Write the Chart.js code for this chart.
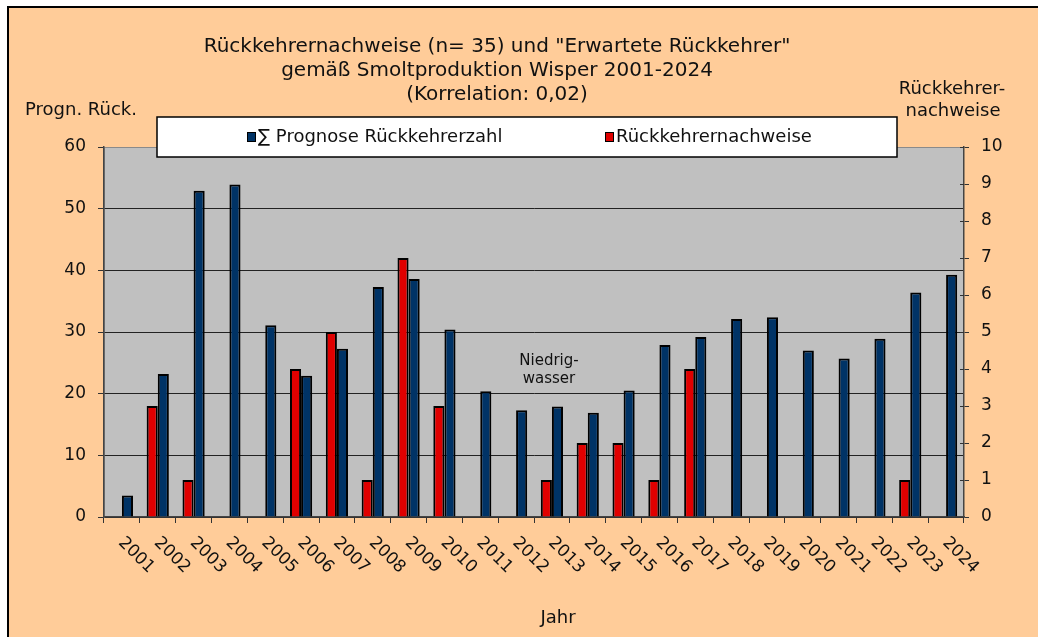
<!DOCTYPE html>
<html>
<head>
<meta charset="utf-8">
<script src="https://cdn.jsdelivr.net/npm/chart.js@4/dist/chart.umd.min.js"></script>
<style>
html,body{margin:0;padding:0;background:#fff;}
#wrap{width:1038px;height:637px;position:relative;}
</style>
</head>
<body>
<div id="wrap"><canvas id="c" width="1038" height="637"></canvas></div>
<script>
const years = ['2001','2002','2003','2004','2005','2006','2007','2008','2009','2010','2011','2012','2013','2014','2015','2016','2017','2018','2019','2020','2021','2022','2023','2024'];
const prognose = [3.5,23.2,52.9,53.9,31.1,22.9,27.3,37.3,38.6,30.4,20.4,17.3,17.9,16.9,20.5,27.9,29.2,32.1,32.4,27.0,25.7,28.9,36.4,39.3];
const nachweise = [null,3,1,null,null,4,5,1,7,3,null,null,1,2,2,1,4,null,null,null,null,null,1,null];
const leftTicks = [0,10,20,30,40,50,60];
const rightTicks = [0,1,2,3,4,5,6,7,8,9,10];
const titleLines = ['Rückkehrernachweise (n= 35) und "Erwartete Rückkehrer"','gemäß Smoltproduktion Wisper 2001-2024','(Korrelation: 0,02)'];
const leftAxisTitle = 'Progn. Rück.';
const rightAxisTitle = ['Rückkehrer-','nachweise'];
const xAxisTitle = 'Jahr';
const noteLines = ['Niedrig-','wasser'];
const labelBlue = '\u2211 Prognose Rückkehrerzahl';
const labelRed = 'Rückkehrernachweise';

const FONT = "'DejaVu Sans', Verdana, sans-serif";
const BLUE = '#003366';
const RED = '#E00000';

const decor = {
  id: 'decor',
  beforeDraw(chart) {
    const ctx = chart.ctx, a = chart.chartArea;
    ctx.save();
    ctx.fillStyle = '#ffffff';
    ctx.fillRect(0, 0, chart.width, chart.height);
    ctx.fillStyle = '#FFCC99';
    ctx.fillRect(8, 7, chart.width - 8, chart.height - 7);
    ctx.strokeStyle = '#000';
    ctx.lineWidth = 2;
    ctx.beginPath();
    ctx.moveTo(8, chart.height); ctx.lineTo(8, 7); ctx.lineTo(chart.width, 7);
    ctx.stroke();
    ctx.fillStyle = '#C0C0C0';
    ctx.fillRect(a.left, a.top, a.right - a.left, a.bottom - a.top);
    ctx.strokeStyle = '#8a8a8a';
    ctx.lineWidth = 1;
    ctx.strokeRect(a.left + 0.5, a.top + 0.5, a.right - a.left - 1, a.bottom - a.top - 1);
    ctx.restore();
  },
  afterDraw(chart) {
    const ctx = chart.ctx, a = chart.chartArea;
    const xs = chart.scales.x, y = chart.scales.y, y2 = chart.scales.y2;
    ctx.save();
    ctx.fillStyle = '#111';
    // titles
    ctx.font = '20px ' + FONT;
    ctx.textAlign = 'center';
    ctx.textBaseline = 'middle';
    const tys = [47, 71, 95];
    titleLines.forEach((t, i) => ctx.fillText(t, 497, tys[i]));
    // axis titles
    ctx.font = '18px ' + FONT;
    ctx.textAlign = 'left';
    ctx.fillText(leftAxisTitle, 25, 110);
    ctx.textAlign = 'center';
    ctx.fillText(rightAxisTitle[0], 952, 89);
    ctx.fillText(rightAxisTitle[1], 953, 111);
    ctx.fillText(xAxisTitle, 558, 618);
    // note
    ctx.font = '15px ' + FONT;
    const nx = (xs.getPixelForValue(11) + xs.getPixelForValue(12)) / 2 + 15;
    ctx.fillText(noteLines[0], nx, y.getPixelForValue(25.2));
    ctx.fillText(noteLines[1], nx, y.getPixelForValue(22.3));
    // x labels rotated
    ctx.font = '17px ' + FONT;
    ctx.textAlign = 'left';
    ctx.textBaseline = 'middle';
    years.forEach((lab, i) => {
      const px = xs.getPixelForValue(i);
      ctx.save();
      ctx.translate(px - 1, a.bottom + 23);
      ctx.rotate(Math.PI / 4);
      ctx.fillText(lab, 0, 0);
      ctx.restore();
    });
    // inner ticks for right axis
    ctx.strokeStyle = '#333';
    ctx.lineWidth = 1;
    y2.ticks.forEach(t => {
      const py = Math.round(y2.getPixelForValue(t.value)) + 0.5;
      ctx.beginPath(); ctx.moveTo(a.right - 4, py); ctx.lineTo(a.right, py); ctx.stroke();
    });
    // legend box
    const lx = 157, ly = 117, lw = 740, lh = 40;
    ctx.fillStyle = '#fff';
    ctx.fillRect(lx, ly, lw, lh);
    ctx.strokeStyle = '#000';
    ctx.lineWidth = 1.5;
    ctx.strokeRect(lx, ly, lw, lh);
    const items = [
      {label: labelBlue, color: BLUE, x: 247},
      {label: labelRed, color: RED, x: 605}
    ];
    ctx.font = '18px ' + FONT;
    ctx.textAlign = 'left';
    ctx.textBaseline = 'middle';
    items.forEach(it => {
      ctx.fillStyle = it.color;
      ctx.fillRect(it.x, ly + 15, 8, 9);
      ctx.strokeStyle = '#000';
      ctx.lineWidth = 1;
      ctx.strokeRect(it.x + 0.5, ly + 15.5, 8, 9);
      ctx.fillStyle = '#111';
      ctx.fillText(it.label, it.x + 11, ly + 20);
    });
    ctx.restore();
  }
};

new Chart(document.getElementById('c'), {
  type: 'bar',
  data: {
    labels: years,
    datasets: [
      {label: labelRed, data: nachweise, yAxisID: 'y2', backgroundColor: RED, borderColor: '#000', borderWidth: 2, borderSkipped: 'bottom'},
      {label: labelBlue, data: prognose, yAxisID: 'y', backgroundColor: BLUE, borderColor: '#000', borderWidth: 2, borderSkipped: 'bottom'}
    ]
  },
  options: {
    responsive: false,
    animation: false,
    devicePixelRatio: 1,
    layout: {padding: {top: 147, left: 0, right: 0, bottom: 0}},
    datasets: {bar: {categoryPercentage: 0.62, barPercentage: 1.0}},
    plugins: {legend: {display: false}, title: {display: false}, tooltip: {enabled: false}},
    scales: {
      x: {
        offset: true,
        ticks: {display: false},
        grid: {offset: true, drawOnChartArea: false, drawTicks: true, tickLength: 6, color: '#333'},
        border: {display: true, color: '#444', width: 1.5},
        afterFit(s) { s.height = 120; }
      },
      y: {
        position: 'left',
        min: 0, max: 60,
        afterBuildTicks(s) { s.ticks = leftTicks.map(v => ({value: v})); },
        ticks: {font: {family: FONT, size: 17}, color: '#111', padding: 12},
        grid: {drawOnChartArea: true, tickLength: 6, color: c => (c.tick && c.tick.value === 60) ? 'rgba(0,0,0,0)' : '#222', tickColor: '#333', lineWidth: 1},
        border: {display: true, color: '#444', width: 1.5},
        afterFit(s) { s.width = 104; }
      },
      y2: {
        position: 'right',
        min: 0, max: 10,
        afterBuildTicks(s) { s.ticks = rightTicks.map(v => ({value: v})); },
        ticks: {font: {family: FONT, size: 17}, color: '#111', padding: 12},
        grid: {drawOnChartArea: false, tickLength: 5, color: '#333'},
        border: {display: true, color: '#444', width: 1.5},
        afterFit(s) { s.width = 74; }
      }
    }
  },
  plugins: [decor]
});
</script>
</body>
</html>
